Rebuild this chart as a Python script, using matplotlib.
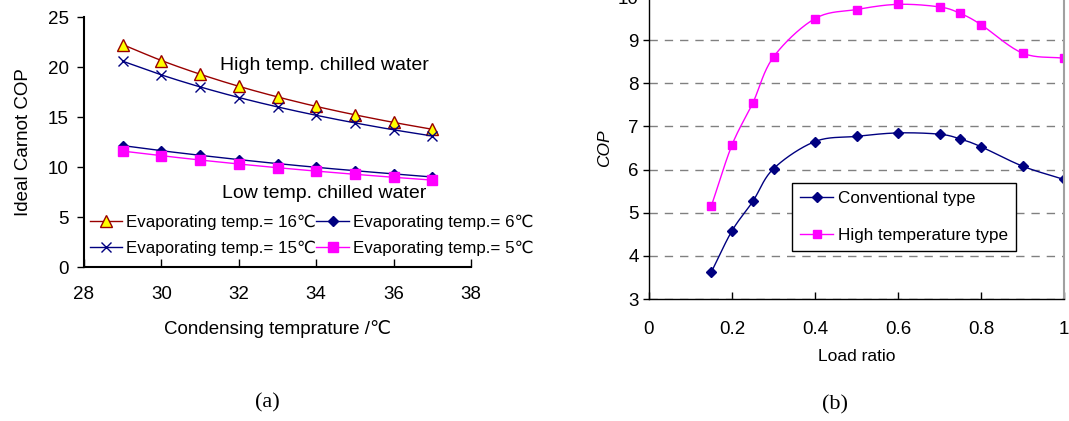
import numpy as np
import matplotlib
matplotlib.use("Agg")
import matplotlib.pyplot as plt

plt.rcParams['font.family'] = ['Liberation Sans', 'DejaVu Sans']
plt.rcParams['font.size'] = 13

# (a) ideal Carnot COP vs condensing temperature
cond_temp = [29, 30, 31, 32, 33, 34, 35, 36, 37]
cop_evap16 = [22.24, 20.65, 19.28, 18.07, 17.01, 16.06, 15.22, 14.46, 13.77]
cop_evap15 = [20.58, 19.21, 18.01, 16.95, 16.01, 15.17, 14.41, 13.72, 13.10]
cop_evap6 = [12.14, 11.63, 11.17, 10.74, 10.34, 9.97, 9.63, 9.31, 9.00]
cop_evap5 = [11.59, 11.13, 10.70, 10.30, 9.93, 9.59, 9.27, 8.97, 8.69]

# (b) part-load COP of the two chiller types
load_ratio = [0.15, 0.2, 0.25, 0.3, 0.4, 0.5, 0.6, 0.7, 0.75, 0.8, 0.9, 1.0]
cop_conventional = [3.62, 4.58, 5.26, 6.02, 6.65, 6.77, 6.85, 6.82, 6.71, 6.53, 6.08, 5.77]
cop_high_temp = [5.15, 6.57, 7.54, 8.61, 9.50, 9.71, 9.83, 9.77, 9.62, 9.36, 8.70, 8.58]

W, H = 1069, 421


def smooth(x, y, n=20):
    # Catmull-Rom curve through the points, like a spreadsheet "smoothed line"
    x = np.asarray(x, float)
    y = np.asarray(y, float)
    px = np.concatenate([[2 * x[0] - x[1]], x, [2 * x[-1] - x[-2]]])
    py = np.concatenate([[2 * y[0] - y[1]], y, [2 * y[-1] - y[-2]]])
    xs, ys = [], []
    t = np.linspace(0, 1, n)
    for i in range(1, len(px) - 2):
        for p, out in ((px, xs), (py, ys)):
            p0, p1, p2, p3 = p[i - 1], p[i], p[i + 1], p[i + 2]
            seg = 0.5 * ((2 * p1) + (-p0 + p2) * t
                         + (2 * p0 - 5 * p1 + 4 * p2 - p3) * t ** 2
                         + (-p0 + 3 * p1 - 3 * p2 + p3) * t ** 3)
            out.extend(seg)
    return np.array(xs), np.array(ys)


def series(ax, x, y, color, label, **mk):
    sx, sy = smooth(x, y)
    ax.plot(sx, sy, color=color, lw=1.0)
    ax.plot(x, y, ls='none', **mk)
    ax.plot([], [], color=color, lw=1.0, label=label, **mk)


def px_box(left, top, right, bottom):
    # axes rectangle from pixel edges (top-left origin)
    return [left / W, 1 - bottom / H, (right - left) / W, (bottom - top) / H]


fig = plt.figure(figsize=(W / 100, H / 100), dpi=100)

# ---- left panel ----
ax1 = fig.add_axes(px_box(84, 17, 471, 267))
series(ax1, cond_temp, cop_evap16, '#990000', 'Evaporating temp.= 16\u2103',
       marker='^', ms=8, mfc='#ffff00', mec='#990000', mew=1.0)
series(ax1, cond_temp, cop_evap15, '#000080', 'Evaporating temp.= 15\u2103',
       marker='x', ms=7, mec='#000080', mew=1.0)
series(ax1, cond_temp, cop_evap6, '#000080', 'Evaporating temp.= 6\u2103',
       marker='D', ms=5, mfc='#000080', mec='#000080')
series(ax1, cond_temp, cop_evap5, '#ff00ff', 'Evaporating temp.= 5\u2103',
       marker='s', ms=7, mfc='#ff00ff', mec='#ff00ff')

ax1.set_xlim(28, 38)
ax1.set_ylim(0, 25)
ax1.set_xticks(range(28, 39, 2))
ax1.set_yticks(range(0, 26, 5))
ax1.spines['top'].set_visible(False)
ax1.spines['right'].set_visible(False)
ax1.spines['left'].set_linewidth(1.5)
ax1.spines['bottom'].set_linewidth(1.5)
ax1.tick_params(axis='x', direction='in', length=6, width=1, labelsize=13.5, pad=14)
ax1.tick_params(axis='y', direction='out', length=5, width=1, labelsize=13.5, pad=6)
ax1.set_xlabel('Condensing temprature /\u2103', fontsize=13.5, labelpad=12)
ax1.set_ylabel('Ideal Carnot COP', fontsize=13.5, labelpad=11)
fig.text(220 / W, 1 - 66 / H, 'High temp. chilled water', fontsize=14,
         va='center')
fig.text(222 / W, 1 - 193 / H, 'Low temp. chilled water', fontsize=14,
         va='center')

ax1.legend(ncol=2, loc='lower left', bbox_to_anchor=(0.0155, 0.045),
           frameon=False, fontsize=12.2, handlelength=1.9, handletextpad=0.25,
           columnspacing=0.0, labelspacing=0.62, borderpad=0.0,
           borderaxespad=0.0)

# ---- right panel ----
ax2 = fig.add_axes(px_box(649, -3, 1064, 299))
series(ax2, load_ratio, cop_conventional, '#000080', 'Conventional type',
       marker='D', ms=5, mfc='#000080', mec='#000080')
series(ax2, load_ratio, cop_high_temp, '#ff00ff', 'High temperature type',
       marker='s', ms=6, mfc='#ff00ff', mec='#ff00ff')

ax2.set_xlim(0, 1)
ax2.set_ylim(3, 10)
ax2.set_xticks([0, 0.2, 0.4, 0.6, 0.8, 1])
ax2.set_xticklabels(['0', '0.2', '0.4', '0.6', '0.8', '1'])
ax2.set_yticks(range(3, 11))
ax2.grid(axis='y', ls=(0, (6, 5)), color='#808080', lw=1.0)
ax2.set_axisbelow(True)
ax2.spines['right'].set_color('#a0a0a0')
ax2.spines['right'].set_linewidth(1.5)
ax2.spines['left'].set_linewidth(1.0)
ax2.spines['bottom'].set_linewidth(1.0)
ax2.tick_params(axis='x', direction='in', length=5, width=1, labelsize=13.5, pad=16)
ax2.tick_params(axis='y', direction='out', length=4, width=1, labelsize=13.5)
ax2.set_xlabel('Load ratio', fontsize=12.5, labelpad=8)
ax2.set_ylabel('COP', fontsize=12.5, style='italic', labelpad=4)
leg = ax2.legend(loc='upper left', bbox_to_anchor=(0.345, 0.384),
                 fontsize=12.3, fancybox=False, framealpha=1, edgecolor='black',
                 handlelength=1.95, handletextpad=0.3, labelspacing=1.3,
                 borderpad=0.45, borderaxespad=0.0)
leg.get_frame().set_linewidth(1.0)

fig.text(267 / W, 1 - 403 / H, '(a)', family='Liberation Serif',
         fontsize=16, ha='center', va='center')
fig.text(835 / W, 1 - 405 / H, '(b)', family='Liberation Serif',
         fontsize=16, ha='center', va='center')

fig.savefig('out.png', dpi=100)
